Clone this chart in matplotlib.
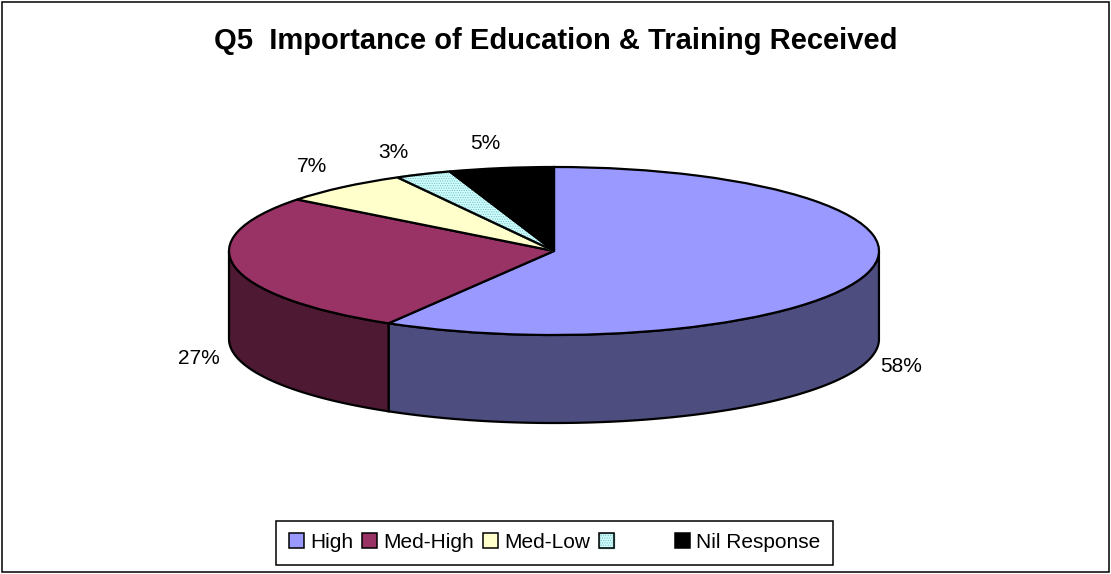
#!/usr/bin/env python3

import numpy as np
import matplotlib
matplotlib.use("Agg")
import matplotlib.pyplot as plt
from matplotlib.legend_handler import HandlerTuple
from matplotlib.patches import Patch, Rectangle, Wedge

plt.rcParams['font.family'] = ['Liberation Sans', 'DejaVu Sans']
plt.rcParams['hatch.linewidth'] = 0.5

title = "Q5  Importance of Education & Training Received"
labels = ["High", "Med-High", "Med-Low", "        ", "Nil Response"]
values = [58.5, 27.0, 6.5, 2.8, 5.2]
colors = ["#9999FF", "#993366", "#FFFFCC", "#CCFFFF", "#000000"]
wall_colors = ["#4D4D80", "#4D1933", "#808066", "#668080", "#000000"]
pct_labels = ["58%", "27%", "7%", "3%", "5%"]
pct_pos = [(901, 366), (199, 359), (312, 166), (393, 152), (485, 144)]
dots = "#7FB8B8"

W, H = 1111, 574
CX, CY, RX, RY, DEPTH = 554, 251, 325, 84, 88


def main():
    fig = plt.figure(figsize=(W / 100, H / 100), dpi=100)
    fig.patch.set_facecolor("white")
    fig.add_artist(Rectangle((1.5 / W, 1 - 571.5 / H), 1107 / W, 570 / H, fill=False,
                             ec="black", lw=1.1, transform=fig.transFigure))

    # axes stretched so that the unit circle of the pie lands on the ellipse
    bottom = CY + RY + DEPTH
    ax = fig.add_axes([(CX - RX) / W, 1 - bottom / H, 2 * RX / W, (2 * RY + DEPTH) / H])

    # side wall first, only the front half of the pie has one
    d = 2 * DEPTH / (2 * RY)
    edges = 90 - 3.6 * np.cumsum([0] + values) / (sum(values) / 100)
    for i in range(len(values)):
        t = np.radians(np.linspace(edges[i + 1], edges[i], 200))
        t = t[np.sin(t) <= 0]
        if len(t) == 0:
            continue
        x, y = np.cos(t), np.sin(t)
        ax.fill(np.r_[x, x[::-1]], np.r_[y, y[::-1] - d], fc=wall_colors[i], ec="black",
                lw=1.6, clip_on=False, zorder=1)

    wedges, _ = ax.pie(values, startangle=90, counterclock=False, colors=colors,
                       wedgeprops=dict(edgecolor="black", linewidth=1.6, clip_on=False))
    for w in wedges:
        w.set_zorder(2)
    # dotted slice, hatch takes its colour from the edge so outline it again
    w = wedges[3]
    w.set_hatch(".......")
    w.set_edgecolor(dots)
    ax.add_patch(Wedge(w.center, w.r, w.theta1, w.theta2, fc="none", ec="black",
                       lw=1.6, clip_on=False, zorder=3))
    ax.set_aspect("auto")
    ax.set_xlim(-1, 1)
    ax.set_ylim(-1 - d, 1)

    fig.text(556 / W, 1 - 41 / H, title, fontsize=21, fontweight="bold",
             ha="center", va="center")
    for s, (px, py) in zip(pct_labels, pct_pos):
        fig.text(px / W, 1 - py / H, s, fontsize=15, ha="center", va="center")

    handles = [Patch(fc=c, ec="black", lw=1.1) for c in colors]
    handles[3] = (Patch(fc=colors[3], ec=dots, hatch="......."),
                  Patch(fc="none", ec="black", lw=1.1))
    leg = fig.legend(handles, labels, ncol=5, loc="center", fontsize=15,
                     bbox_to_anchor=(554.5 / W, 1 - 542.5 / H), fancybox=False,
                     edgecolor="black", framealpha=1, handlelength=0.72, handleheight=0.72,
                     handletextpad=0.3, columnspacing=0.42, borderpad=0.6,
                     borderaxespad=0, handler_map={tuple: HandlerTuple(ndivide=1, pad=0)})
    leg.get_frame().set_linewidth(1.1)

    fig.savefig("out.png", dpi=100)


if __name__ == "__main__":
    main()
